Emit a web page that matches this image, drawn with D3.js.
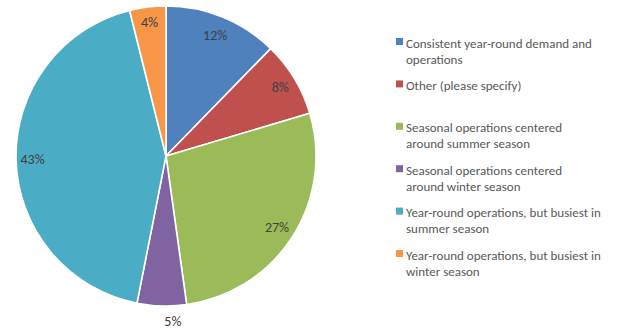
<!DOCTYPE html>
<html>
<head>
<meta charset="utf-8">
<script src="https://cdn.jsdelivr.net/npm/d3@7"></script>
<style>
  html, body { margin: 0; padding: 0; background: #fff; }
  svg { display: block; }
  text { font-family: Carlito, Lato, "Liberation Sans", sans-serif; }
</style>
</head>
<body>
<svg id="chart" width="629" height="330"></svg>
<script>
// Share of respondents by operating pattern (percent)
const categories = [
  "Consistent year-round demand and operations",
  "Other (please specify)",
  "Seasonal operations centered around summer season",
  "Seasonal operations centered around winter season",
  "Year-round operations, but busiest in summer season",
  "Year-round operations, but busiest in winter season"
];
const shares = [12.3, 8.1, 27.4, 5.3, 43.0, 3.9];
const legendLines = [
  ["Consistent year-round demand and", "operations"],
  ["Other (please specify)"],
  ["Seasonal operations centered", "around summer season"],
  ["Seasonal operations centered", "around winter season"],
  ["Year-round operations, but busiest in", "summer season"],
  ["Year-round operations, but busiest in", "winter season"]
];
const palette = ["#4F81BD", "#C0504D", "#9BBB59", "#8064A2", "#4BACC6", "#F79646"];

// Where each percentage label sits: fraction of radius, fraction through the slice angle
const labelPlacement = [
  { rf: 0.87, t: 0.5 },
  { rf: 0.89, t: 0.5 },
  { rf: 0.88, t: 0.5 },
  { rf: 1.10, t: 0.29 },
  { rf: 0.89, t: 0.5 },
  { rf: 0.90, t: 0.5 }
];

const svg = d3.select("#chart");
const cx = 166, cy = 156, radius = 150;

const color = d3.scaleOrdinal().domain(categories).range(palette);
const pie = d3.pie().sort(null).value(d => d.value);
const arcs = pie(categories.map((c, i) => ({ name: c, value: shares[i] })));
const total = d3.sum(shares);
const arc = d3.arc().innerRadius(0).outerRadius(radius);

const g = svg.append("g").attr("transform", `translate(${cx},${cy})`);

g.selectAll("path.slice")
  .data(arcs)
  .join("path")
  .attr("class", "slice")
  .attr("d", arc)
  .attr("fill", d => color(d.data.name))
  .attr("stroke", "#fff")
  .attr("stroke-width", 1.6)
  .attr("stroke-linejoin", "round");

g.selectAll("text.pct")
  .data(arcs)
  .join("text")
  .attr("class", "pct")
  .attr("transform", (d, i) => {
    const p = labelPlacement[i];
    const a = d.startAngle + (d.endAngle - d.startAngle) * p.t;
    const r = radius * p.rf;
    return `translate(${r * Math.sin(a)},${-r * Math.cos(a)})`;
  })
  .attr("text-anchor", "middle")
  .attr("dy", "0.35em")
  .attr("font-size", 14)
  .attr("fill", "#404040")
  .text(d => d3.format(".0f")(d.data.value / total * 100) + "%");

// Legend
const legend = svg.append("g").attr("transform", "translate(396,0)");
const itemY = d3.scaleLinear().domain([0, categories.length - 1]).range([43, 255]);
const lineH = 16;

const items = legend.selectAll("g.item")
  .data(categories)
  .join("g")
  .attr("class", "item")
  .attr("transform", (d, i) => `translate(0,${itemY(i)})`);

items.append("rect")
  .attr("x", 0)
  .attr("y", -5)
  .attr("width", 7)
  .attr("height", 7)
  .attr("fill", d => color(d));

items.append("text")
  .attr("x", 10)
  .attr("y", 0)
  .attr("font-size", 13)
  .attr("fill", "#595959")
  .selectAll("tspan")
  .data((d, i) => legendLines[i])
  .join("tspan")
  .attr("x", 10)
  .attr("dy", (d, j) => j === 0 ? "0.35em" : lineH)
  .text(d => d);
</script>
</body>
</html>
